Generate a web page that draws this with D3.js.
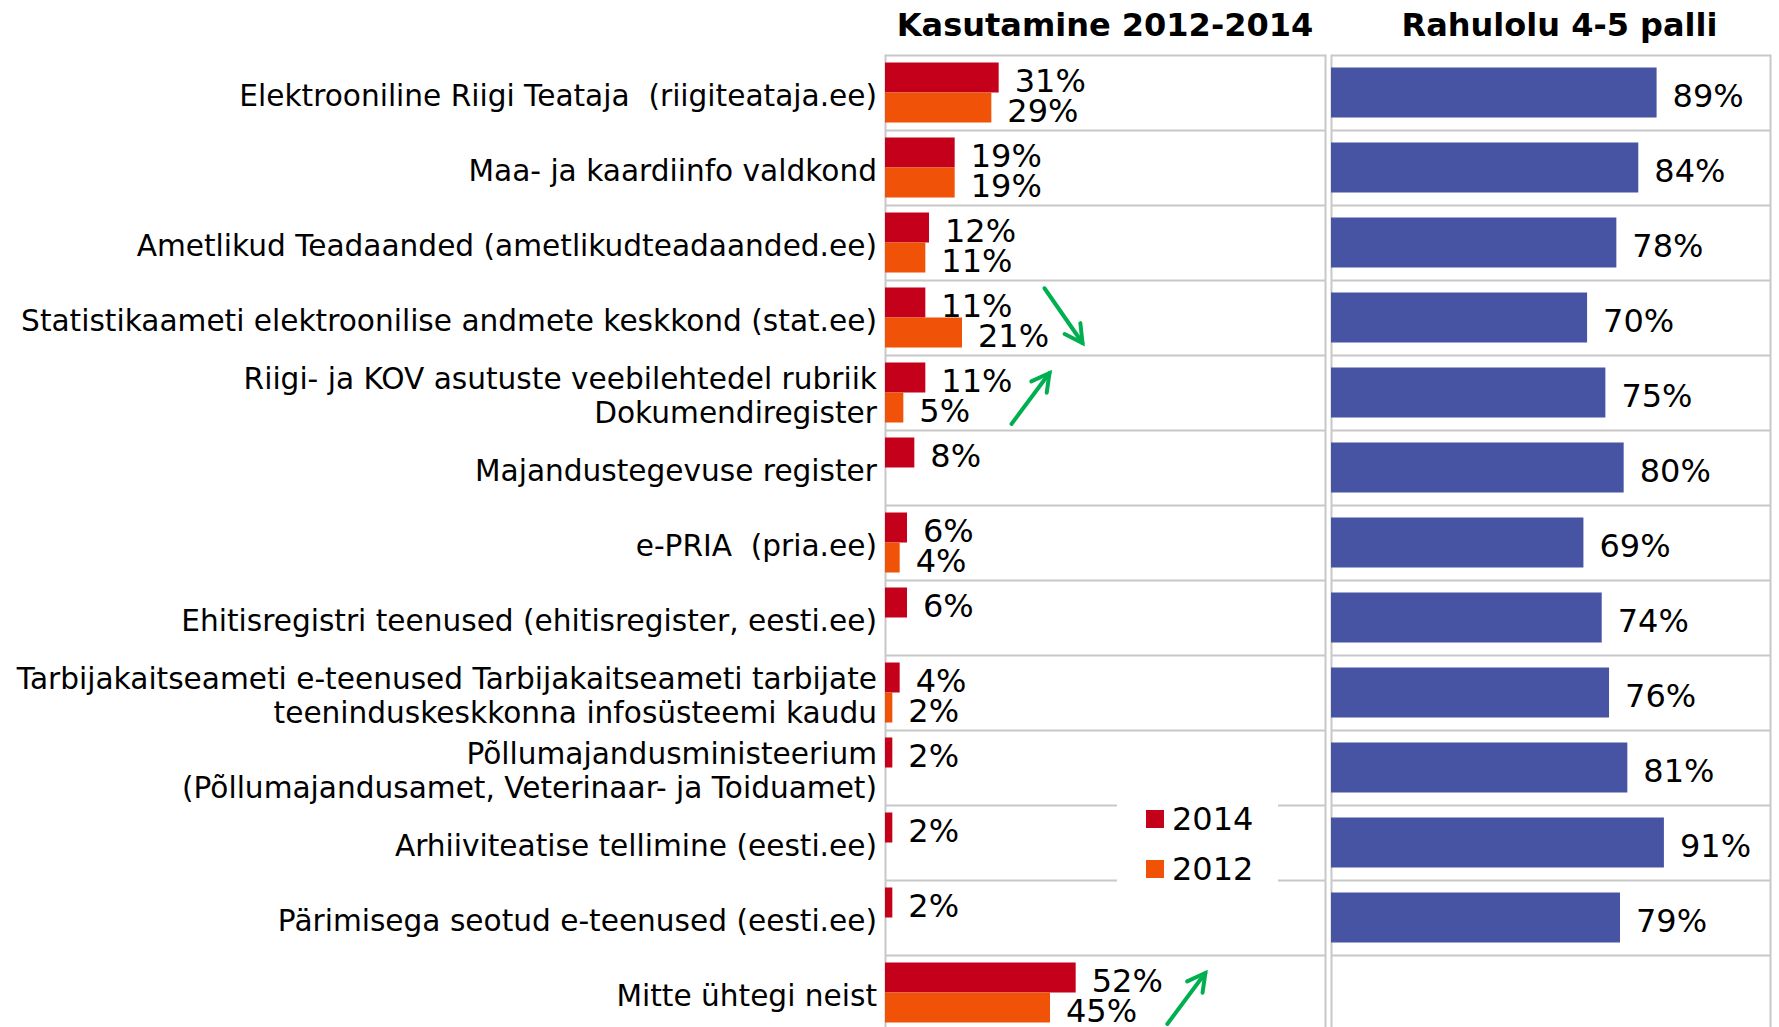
<!DOCTYPE html>
<html>
<head>
<meta charset="utf-8">
<script src="https://cdn.jsdelivr.net/npm/d3@7"></script>
<style>
  html, body { margin: 0; padding: 0; background: #fff; }
  svg { display: block; font-family: "DejaVu Sans", Verdana, sans-serif; }
  text { white-space: pre; }
</style>
</head>
<body>
<svg id="chart" width="1779" height="1027"></svg>
<script>
'use strict';

// data
var categories = [
  'Elektrooniline Riigi Teataja  (riigiteataja.ee)',
  'Maa- ja kaardiinfo valdkond',
  'Ametlikud Teadaanded (ametlikudteadaanded.ee)',
  'Statistikaameti elektroonilise andmete keskkond (stat.ee)',
  'Riigi- ja KOV asutuste veebilehtedel rubriik\nDokumendiregister',
  'Majandustegevuse register',
  'e-PRIA  (pria.ee)',
  'Ehitisregistri teenused (ehitisregister, eesti.ee)',
  'Tarbijakaitseameti e-teenused Tarbijakaitseameti tarbijate\nteeninduskeskkonna infosüsteemi kaudu',
  'Põllumajandusministeerium\n(Põllumajandusamet, Veterinaar- ja Toiduamet)',
  'Arhiiviteatise tellimine (eesti.ee)',
  'Pärimisega seotud e-teenused (eesti.ee)',
  'Mitte ühtegi neist'
];
var use2014 = [31, 19, 12, 11, 11, 8, 6, 6, 4, 2, 2, 2, 52];
var use2012 = [29, 19, 11, 21, 5, null, 4, null, 2, null, null, null, 45];
var satisfaction = [89, 84, 78, 70, 75, 80, 69, 74, 76, 81, 91, 79, null];
var seriesNames = ['2014', '2012'];
var panelTitles = ['Kasutamine 2012-2014', 'Rahulolu 4-5 palli'];
// trend arrows (category index, direction)
var trends = [
  {row: 3, dir: 'down'},
  {row: 4, dir: 'up'},
  {row: 12, dir: 'up'}
];

// layout
var colors = {'2014': '#c5001a', '2012': '#f05208', sat: '#4754a4', grid: '#c8c8c8', arrow: '#00b050'};
var leftX0 = 885, leftX1 = 1325, rightX0 = 1331, rightX1 = 1770;
var plotTop = 55, rowH = 75;
var arrowStart = {3: 43.5, 4: 34.5, 12: 77}; // in % units of the usage scale

var svg = d3.select('#chart');

var y = d3.scaleBand()
  .domain(d3.range(categories.length))
  .range([plotTop, plotTop + rowH * categories.length])
  .padding(0);

var ySub = d3.scaleBand()
  .domain(seriesNames)
  .range([0, y.bandwidth()])
  .paddingInner(0)
  .paddingOuter(0.25);

var xUse = d3.scaleLinear().domain([0, 120]).range([leftX0, leftX1]);
var xSat = d3.scaleLinear().domain([0, 120]).range([rightX0, rightX1]);

// panel frames and row separators
function drawFrame(x0, x1) {
  var g = svg.append('g');
  g.append('rect')
    .attr('x', x0 + 0.5).attr('y', plotTop + 0.5)
    .attr('width', x1 - x0).attr('height', rowH * categories.length + 20)
    .attr('fill', 'none').attr('stroke', colors.grid).attr('stroke-width', 2);
  g.selectAll('line.sep')
    .data(d3.range(1, categories.length))
    .join('line')
    .attr('class', 'sep')
    .attr('x1', x0).attr('x2', x1)
    .attr('y1', function(i){ return y(i) + 0.5; })
    .attr('y2', function(i){ return y(i) + 0.5; })
    .attr('stroke', colors.grid).attr('stroke-width', 2);
}
drawFrame(leftX0, leftX1);
drawFrame(rightX0, rightX1);

// titles
svg.selectAll('text.title')
  .data(panelTitles)
  .join('text')
  .attr('class', 'title')
  .attr('x', function(d, i){ return i === 0 ? (leftX0 + leftX1) / 2 : (rightX0 + rightX1) / 2 + 9; })
  .attr('y', 36)
  .attr('text-anchor', 'middle')
  .attr('font-size', 32)
  .attr('font-weight', 'bold')
  .attr('fill', '#000')
  .text(function(d){ return d; });

// category labels
var labels = svg.append('g').selectAll('text')
  .data(categories)
  .join('text')
  .attr('x', 877)
  .attr('text-anchor', 'end')
  .attr('font-size', 29.6)
  .attr('fill', '#000');
labels.each(function(d, i){
  var lines = d.split('\n');
  var cy = y(i) + y.bandwidth() / 2;
  var t = d3.select(this);
  lines.forEach(function(line, k){
    t.append('tspan')
      .attr('x', 877)
      .attr('y', cy + 13 + (k - (lines.length - 1) / 2) * 34)
      .text(line);
  });
});

// usage bars
var useRows = [];
categories.forEach(function(c, i){
  useRows.push({row: i, series: '2014', v: use2014[i]});
  if (use2012[i] != null) useRows.push({row: i, series: '2012', v: use2012[i]});
});

var gUse = svg.append('g');
gUse.selectAll('rect')
  .data(useRows)
  .join('rect')
  .attr('x', xUse(0))
  .attr('y', function(d){ return y(d.row) + ySub(d.series); })
  .attr('width', function(d){ return xUse(d.v) - xUse(0); })
  .attr('height', ySub.bandwidth())
  .attr('fill', function(d){ return colors[d.series]; });
gUse.selectAll('text')
  .data(useRows)
  .join('text')
  .attr('x', function(d){ return xUse(d.v) + 16; })
  .attr('y', function(d){ return y(d.row) + ySub(d.series) + ySub.bandwidth() / 2 + 14; })
  .attr('font-size', 32)
  .attr('fill', '#000')
  .text(function(d){ return d.v + '%'; });

// satisfaction bars
var satRows = satisfaction.map(function(v, i){ return {row: i, v: v}; })
  .filter(function(d){ return d.v != null; });
var gSat = svg.append('g');
gSat.selectAll('rect')
  .data(satRows)
  .join('rect')
  .attr('x', xSat(0))
  .attr('y', function(d){ return y(d.row) + y.bandwidth() / 6; })
  .attr('width', function(d){ return xSat(d.v) - xSat(0); })
  .attr('height', y.bandwidth() * 2 / 3)
  .attr('fill', colors.sat);
gSat.selectAll('text')
  .data(satRows)
  .join('text')
  .attr('x', function(d){ return xSat(d.v) + 16; })
  .attr('y', function(d){ return y(d.row) + y.bandwidth() / 2 + 14; })
  .attr('font-size', 32)
  .attr('fill', '#000')
  .text(function(d){ return d.v + '%'; });

// legend
var lg = svg.append('g');
lg.append('rect')
  .attr('x', 1117).attr('y', y(10) - 12)
  .attr('width', 161).attr('height', 100)
  .attr('fill', '#fff');
seriesNames.forEach(function(s, k){
  var ly = y(10) + 5 + k * 50;
  lg.append('rect')
    .attr('x', 1146).attr('y', ly)
    .attr('width', 18).attr('height', 18)
    .attr('fill', colors[s]);
  lg.append('text')
    .attr('x', 1172).attr('y', ly + 20)
    .attr('font-size', 32)
    .attr('fill', '#000')
    .text(s);
});

// trend arrows
var ga = svg.append('g')
  .attr('stroke', colors.arrow).attr('stroke-width', 4)
  .attr('fill', 'none').attr('stroke-linecap', 'round');
trends.forEach(function(t){
  var x1 = xUse(arrowStart[t.row]);
  var dx = 38;
  var y0 = y(t.row), h = y.bandwidth();
  var p1, p2;
  if (t.dir === 'down') {
    p1 = [x1, y0 + h * 0.11];
    p2 = [x1 + dx, y0 + h * 0.84];
  } else {
    p1 = [x1, y0 + h * 0.92];
    p2 = [x1 + dx, y0 + h * 0.24];
  }
  var ang = Math.atan2(p2[1] - p1[1], p2[0] - p1[0]);
  var hl = 20, spread = 0.5;
  var a1 = [p2[0] - hl * Math.cos(ang - spread), p2[1] - hl * Math.sin(ang - spread)];
  var a2 = [p2[0] - hl * Math.cos(ang + spread), p2[1] - hl * Math.sin(ang + spread)];
  ga.append('path')
    .attr('d', d3.line()([p1, p2]));
  ga.append('path')
    .attr('d', d3.line()([a1, p2, a2]))
    .attr('stroke-linejoin', 'miter');
});
</script>
</body>
</html>
